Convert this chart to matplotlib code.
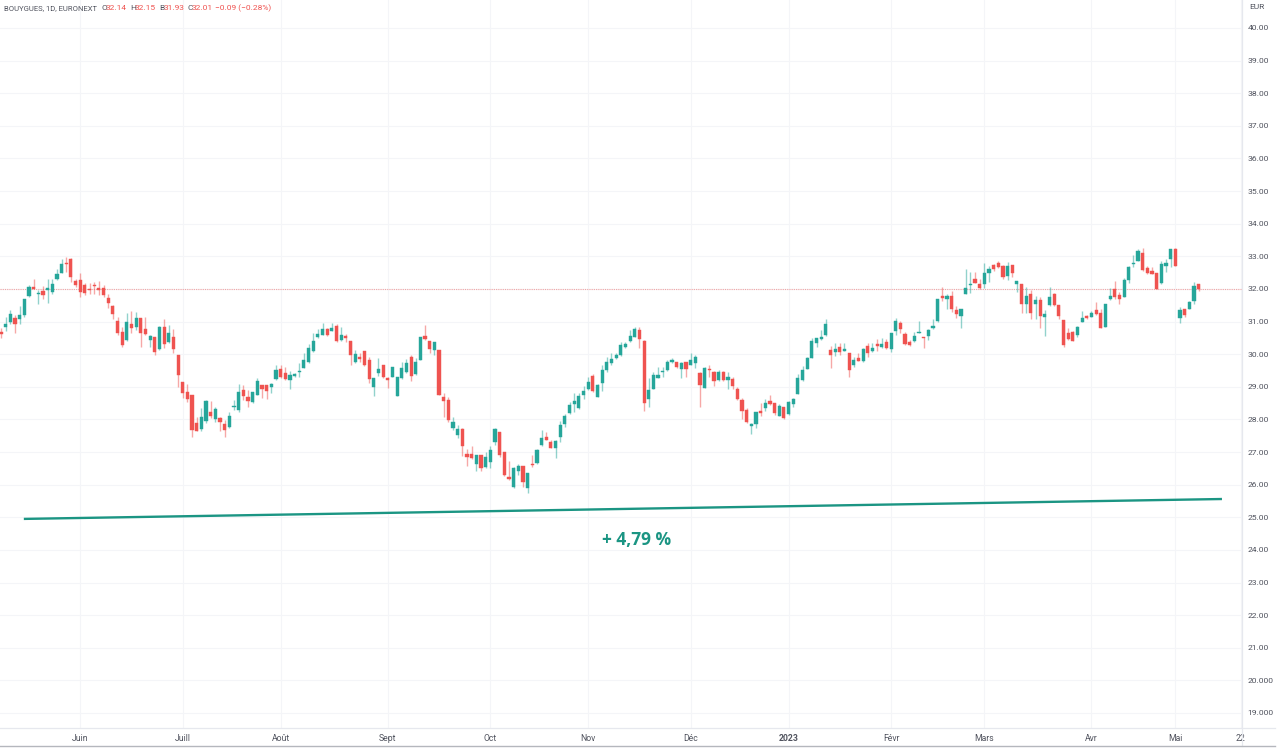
import matplotlib
matplotlib.use('Agg')
import matplotlib.pyplot as plt
from matplotlib.lines import Line2D

plt.rcParams['font.family'] = ['Roboto', 'DejaVu Sans']

# candles, one per trading day
opens = [30.67,30.83,30.98,31.12,31.09,31.19,31.79,32.06,31.85,31.93,31.96,31.90,32.29,32.49,32.79,32.92,32.25,32.26,32.11,32.01,
         32.12,32.04,32.02,31.71,31.48,31.03,30.68,30.42,30.92,30.83,31.10,30.76,30.44,30.53,30.15,30.84,30.37,30.53,29.97,29.15,
         28.85,28.74,27.88,27.70,27.96,28.23,28.00,28.05,27.86,27.76,28.39,28.29,28.90,28.69,28.53,28.76,29.07,29.07,28.99,29.23,
         29.54,29.42,29.21,29.33,29.46,29.58,29.76,30.09,30.53,
         30.60,30.77,30.72,30.86,30.44,30.56,30.41,29.77,29.90,30.09,29.83,28.99,29.42,29.66,29.26,29.31,28.73,29.27,29.45,29.91,
         29.39,29.83,30.55,30.41,30.13,30.12,28.70,28.61,27.73,27.52,27.72,26.95,26.95,26.64,26.90,26.54,26.70,27.32,27.62,26.99,
         26.24,25.94,26.43,26.57,25.89,26.63,26.66,27.22,27.46,27.31,27.13,27.45,27.86,28.19,28.48,28.34,28.75,28.93,29.34,28.70,
         29.12,29.50,29.73,29.89,29.98,30.23,30.40,30.54,30.73,
         30.41,28.64,28.93,29.28,29.44,29.50,29.76,29.75,29.56,29.77,29.68,29.73,29.43,28.97,29.54,29.44,29.22,29.44,29.21,29.25,
         28.93,28.60,28.28,27.79,27.86,28.27,28.35,28.55,28.50,28.12,28.38,28.17,28.46,28.78,29.21,29.56,29.88,30.34,30.47,30.58,
         30.12,30.06,30.22,30.11,30.05,29.66,29.88,29.79,30.25,30.10,30.32,30.22,30.36,30.15,30.70,30.96,30.62,30.37,30.39,30.66,
         30.54,30.56,30.80,
         31.01,31.78,31.68,31.77,31.36,31.18,31.85,32.12,32.30,32.16,32.15,32.48,32.73,32.79,32.70,32.40,32.72,32.16,32.14,31.55,
         31.84,31.55,31.67,31.15,31.50,31.86,31.51,31.05,30.65,30.67,30.60,30.99,31.17,31.15,31.35,31.26,30.84,31.68,32.00,31.81,
         31.75,32.28,32.75,32.87,33.09,32.65,32.56,32.48,32.18,32.71,32.91,33.21,31.12,31.37,31.40,31.62,32.14]
highs = [30.79,31.13,31.35,31.20,31.48,31.69,32.12,32.30,31.97,32.09,32.29,32.29,32.60,32.91,32.97,32.94,32.29,32.48,32.17,32.19,
         32.22,32.24,32.12,31.86,31.51,31.13,30.82,31.25,31.32,31.30,31.10,31.13,30.60,30.53,30.86,31.07,30.90,30.76,29.97,29.15,
         29.08,28.74,28.08,28.34,28.60,28.57,28.39,28.08,27.98,28.23,28.61,29.08,29.07,28.90,28.83,29.26,29.07,29.07,29.13,29.66,
         29.67,29.62,29.49,29.43,29.72,30.03,30.30,30.64,30.76,
         30.95,30.79,30.95,30.92,30.84,30.62,30.41,30.13,30.05,30.11,29.92,29.27,29.89,29.68,29.29,29.62,29.31,29.77,29.86,29.98,
         29.89,30.54,30.90,30.41,30.37,30.12,28.80,28.68,28.08,27.83,27.74,27.10,27.17,26.90,26.90,27.01,27.20,27.73,27.62,26.99,
         26.72,26.55,26.63,26.57,26.36,26.90,27.08,27.68,27.61,27.37,27.37,27.95,28.17,28.54,28.80,28.80,29.02,29.31,29.39,29.08,
         29.67,29.90,30.03,30.05,30.38,30.38,30.74,30.84,30.84,
         30.44,29.26,29.46,29.62,29.62,29.82,29.89,29.77,29.77,29.77,30.03,29.98,29.46,29.60,29.66,29.48,29.52,29.48,29.46,29.31,
         28.98,28.65,28.36,27.90,28.24,28.49,28.62,28.74,28.51,28.46,28.38,28.55,28.65,29.39,29.64,29.90,30.49,30.51,30.74,31.07,
         30.25,30.33,30.33,30.34,30.05,29.92,30.03,30.18,30.33,30.33,30.46,30.49,30.46,30.65,31.10,31.01,30.69,30.42,30.69,31.02,
         30.54,30.76,31.07,
         31.70,32.05,31.86,31.94,31.48,31.40,32.62,32.52,32.53,32.29,32.81,32.70,32.76,32.86,32.74,32.82,32.72,32.25,32.14,32.05,
         31.97,31.78,31.76,31.35,32.07,31.89,31.51,31.05,30.79,30.72,30.86,31.33,31.20,31.33,31.59,31.38,31.54,32.02,32.23,31.92,
         32.33,32.70,33.03,33.21,33.26,32.70,32.68,32.48,32.87,32.91,33.23,33.25,31.46,31.40,31.64,32.20,32.15]
lows = [30.49,30.72,30.94,30.66,30.91,31.13,31.74,31.99,31.55,31.68,31.58,31.83,32.27,32.48,32.53,32.22,32.07,31.76,31.81,31.86,
        31.86,31.81,31.74,31.43,31.07,30.58,30.23,30.40,30.66,30.74,30.23,30.59,30.23,29.98,30.13,30.18,30.35,30.05,29.00,28.66,
        28.53,27.47,27.65,27.65,27.90,28.03,27.93,27.63,27.45,27.73,28.29,28.24,28.59,28.37,28.51,28.75,28.65,28.64,28.82,29.21,
        29.27,29.21,28.93,29.31,29.29,29.57,29.74,30.07,30.50,
        30.59,30.56,30.70,30.38,30.41,30.36,29.67,29.74,29.77,29.64,29.11,28.73,29.34,29.26,28.96,29.29,28.72,29.25,29.43,29.19,
        29.36,29.82,30.44,30.05,29.99,28.75,28.08,27.93,27.68,27.42,26.88,26.57,26.79,26.41,26.43,26.51,26.51,27.22,26.84,26.27,
        26.14,25.91,26.30,25.94,25.73,26.55,26.63,27.19,27.37,27.11,26.83,27.32,27.78,28.17,28.23,28.32,28.63,28.90,28.85,28.68,
        28.88,29.46,29.67,29.84,29.94,30.20,30.38,30.52,30.20,
        28.27,28.38,28.92,29.27,29.31,29.48,29.72,29.59,29.28,29.31,29.66,29.59,28.39,28.95,29.31,29.02,29.19,29.18,28.94,28.92,
        28.60,28.00,27.90,27.55,27.74,28.12,28.26,28.44,28.15,28.10,28.02,28.15,28.39,28.77,29.17,29.54,29.87,30.23,30.44,30.56,
        29.58,29.94,29.97,30.09,29.29,29.62,29.78,29.77,29.92,30.08,30.11,30.19,30.17,30.07,30.60,30.66,30.28,30.26,30.37,30.64,
        30.20,30.44,30.78,
        30.99,31.64,31.39,31.30,31.10,30.81,31.84,31.89,32.17,32.00,32.02,32.20,32.56,32.64,32.32,32.27,32.36,31.91,31.27,31.25,
        31.07,31.09,30.79,30.57,31.48,31.49,31.07,30.23,30.45,30.41,30.52,30.99,31.08,31.13,31.20,30.80,30.82,31.66,31.68,31.53,
        31.74,32.19,32.68,32.85,32.55,32.46,32.45,31.99,32.15,32.53,32.68,32.69,30.97,31.15,31.38,31.53,31.93]
closes = [30.63,30.91,31.24,30.93,31.20,31.69,32.06,32.01,31.89,31.80,32.03,32.16,32.46,32.77,32.76,32.37,32.13,31.91,31.89,31.98,
          32.08,31.97,31.80,31.58,31.23,30.66,30.27,31.00,30.80,31.12,30.66,30.61,30.57,30.07,30.84,30.31,30.64,30.17,29.36,28.82,
          28.64,27.67,27.65,28.08,28.58,28.11,28.33,27.91,27.68,28.12,28.41,28.83,28.73,28.58,28.83,29.18,28.93,28.87,29.08,29.50,
          29.29,29.23,29.35,29.40,29.49,29.82,30.20,30.39,30.63,
          30.76,30.60,30.80,30.40,30.59,30.49,29.97,30.01,29.85,29.68,29.23,29.27,29.55,29.29,29.20,29.60,29.30,29.59,29.73,29.34,
          29.75,30.52,30.46,30.17,30.36,28.76,28.57,27.97,27.93,27.72,27.20,26.85,26.81,26.90,26.52,26.86,27.07,27.70,26.91,26.31,
          26.16,26.50,26.58,26.08,26.36,26.59,27.06,27.43,27.38,27.12,27.35,27.82,28.12,28.44,28.57,28.72,28.88,29.14,28.87,29.06,
          29.53,29.75,29.86,29.99,30.29,30.32,30.56,30.77,30.47,
          28.49,28.90,29.35,29.37,29.48,29.77,29.82,29.61,29.74,29.55,29.82,29.92,29.05,29.57,29.50,29.18,29.44,29.20,29.31,29.02,
          28.62,28.26,27.92,27.86,28.23,28.20,28.49,28.48,28.19,28.42,28.03,28.54,28.62,29.28,29.50,29.88,30.39,30.49,30.53,30.91,
          29.97,30.16,30.08,30.15,29.52,29.81,29.80,30.15,30.05,30.19,30.25,30.30,30.20,30.65,31.03,30.77,30.30,30.29,30.57,30.68,
          30.51,30.75,30.86,
          31.70,31.73,31.77,31.40,31.23,31.40,32.03,32.14,32.19,32.02,32.50,32.61,32.60,32.68,32.38,32.71,32.50,32.24,31.55,31.78,
          31.25,31.65,31.17,31.24,31.75,31.51,31.18,30.29,30.46,30.41,30.84,31.10,31.10,31.25,31.22,30.81,31.54,31.78,31.76,31.68,
          32.27,32.68,32.81,33.16,32.57,32.48,32.47,32.00,32.75,32.79,33.21,32.70,31.36,31.21,31.61,32.10,32.01]

last_close = 32.01

price_ticks = list(range(19, 41))
price_labels = ['19.000', '20.000'] + ['%d.00' % p for p in range(21, 41)]
month_ticks = [17, 39, 60, 83, 105, 126, 148, 169, 191, 211, 234, 252, 266]
month_labels = ['Juin', 'Juill', 'Août', 'Sept', 'Oct', 'Nov', 'Déc', '2023', 'Févr', 'Mars', 'Avr', 'Mai', '22']

trend_x = [4.9, 262]
trend_y = [24.95, 25.56]

green = '#26a69a'
red = '#ef5350'
W, H = 1280, 752

fig = plt.figure(figsize=(W / 100, H / 100), dpi=100)
ax = fig.add_axes([0, 1 - 728 / H, 1242 / W, 728 / H])
ax.set_xlim(-0.215, 266.3)
ax.set_ylim(18.54, 40.858)

ax.grid(True, color='#f4f5f8', lw=0.8)
ax.set_axisbelow(True)
ax.set_xticks(month_ticks)
ax.set_yticks(price_ticks)
ax.set_xticklabels(month_labels, fontsize=6.2, color='#50535e')
ax.set_yticklabels(price_labels, fontsize=6.1, color='#50535e')
ax.get_xticklabels()[7].set_fontweight('bold')
ax.yaxis.tick_right()
ax.tick_params(length=0, axis='x', pad=4)
ax.tick_params(length=0, axis='y', pad=4)
for s in ax.spines.values():
    s.set_visible(False)

xs = list(range(len(closes)))
colors = [green if c >= o else red for o, c in zip(opens, closes)]
ax.vlines(xs, lows, highs, colors=colors, lw=1.0, alpha=0.5, zorder=2)
bottoms = [min(o, c) for o, c in zip(opens, closes)]
heights = [abs(c - o) for o, c in zip(opens, closes)]
ax.bar(xs, heights, bottom=bottoms, width=0.68, color=colors, edgecolor=colors, lw=0.3, zorder=3)

ax.axhline(last_close, color=red, lw=0.8, ls=(0, (1, 1)), alpha=0.5, zorder=1)
ax.plot(trend_x, trend_y, color='#1b9583', lw=1.7, solid_capstyle='butt', zorder=4)
ax.text(136.3, 24.29, '+ 4,79 %', color='#1b9583', fontsize=12.5, fontweight='bold',
        family=['Open Sans', 'DejaVu Sans'], ha='center', va='center')

# frame lines of the price and time scales
fig.add_artist(Line2D([1242 / W, 1242 / W], [1 - 746 / H, 1], color='#e6e8ee', lw=0.9))
fig.add_artist(Line2D([0, 1275 / W], [1 - 728 / H, 1 - 728 / H], color='#e6e8ee', lw=0.9))
fig.add_artist(Line2D([0, 1275 / W], [1 - 745.5 / H, 1 - 745.5 / H], color='#b5b7bd', lw=1.0))

fig.text(1249 / W, 1 - 7 / H, 'EUR', fontsize=6, color='#50535e', va='center')

header = [(4, 'BOUYGUES, 1D, EURONEXT', '#50535e', 5.5), (101, 'O', '#50535e', 6), (106, '32.14', red, 6),
          (130, 'H', '#50535e', 6), (135, '32.15', red, 6), (159, 'B', '#50535e', 6), (164, '31.93', red, 6),
          (187, 'C', '#50535e', 6), (192, '32.01', red, 6), (215, '−0.09 (−0.28%)', red, 6)]
for x, s, c, size in header:
    fig.text(x / W, 1 - 8 / H, s, fontsize=size, color=c, va='center')

fig.savefig('out.png', dpi=100, facecolor='white')
